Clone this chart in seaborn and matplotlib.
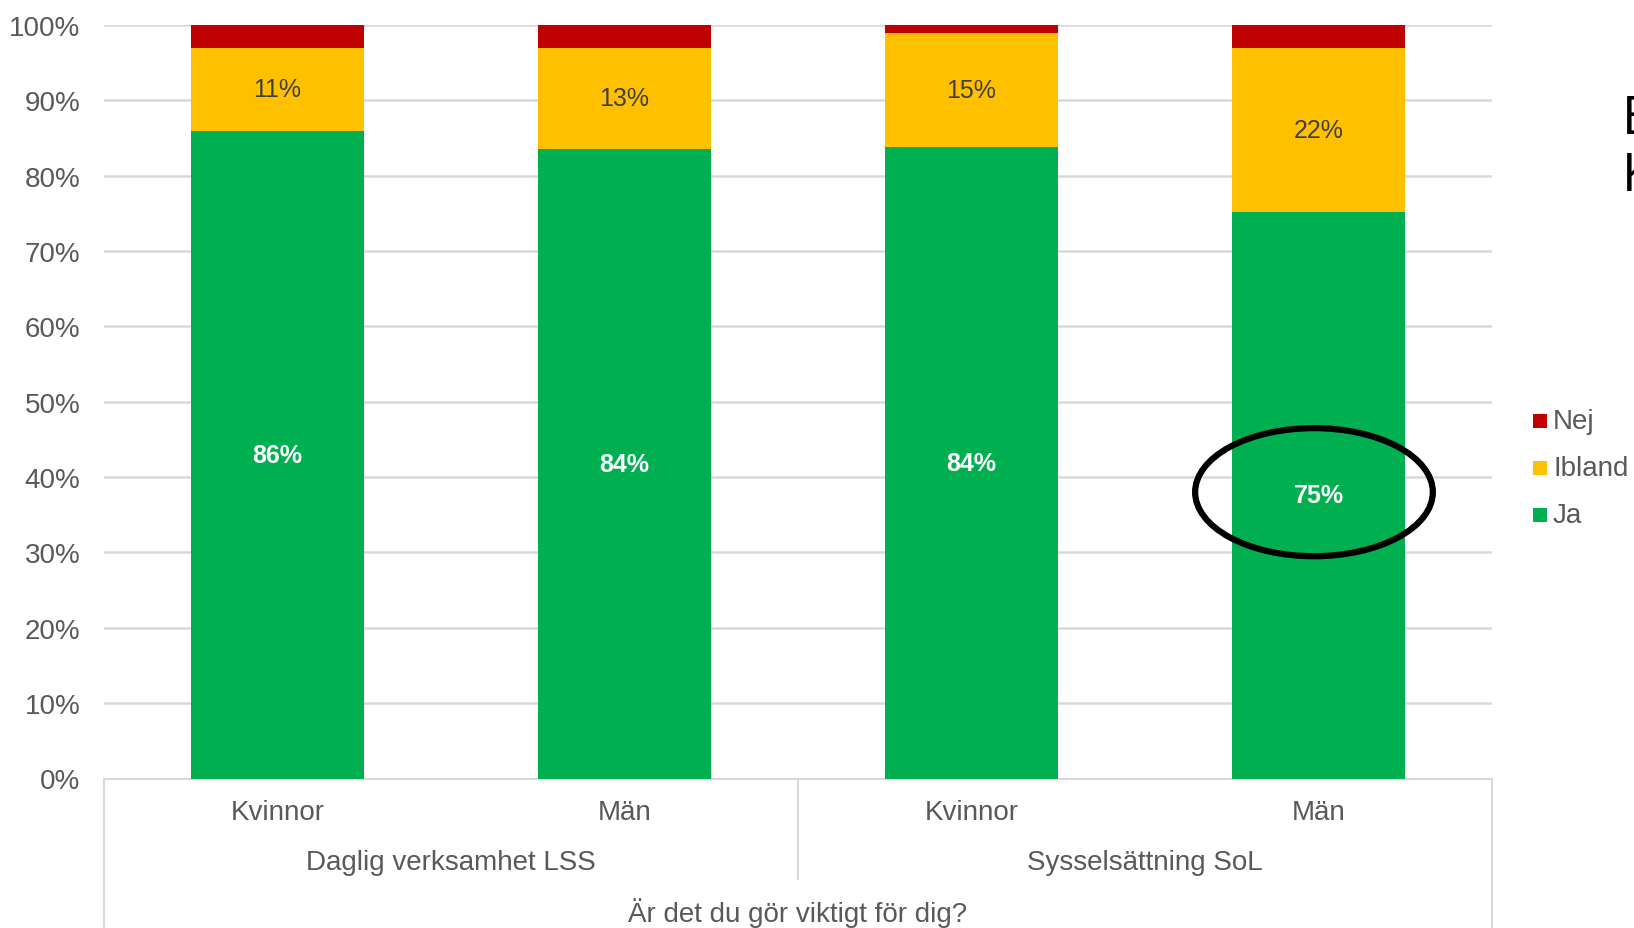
import matplotlib
matplotlib.use("Agg")
import matplotlib.pyplot as plt
from matplotlib.patches import Ellipse
import seaborn as sns
import pandas as pd
import numpy as np

categories = ["Kvinnor", "Män", "Kvinnor", "Män"]
groups = ["Daglig verksamhet LSS", "Sysselsättning SoL"]
ja = [85.9, 83.6, 83.8, 75.2]
ibland = [11.1, 13.4, 15.1, 21.8]
nej = [3.0, 3.0, 1.1, 3.0]
series_names = ["Nej", "Ibland", "Ja"]
colors = {"Nej": "#C00000", "Ibland": "#FFC000", "Ja": "#00B050"}
axis_title = "Är det du gör viktigt för dig?"
yticks = [0, 10, 20, 30, 40, 50, 60, 70, 80, 90, 100]

sns.set_theme(style="white")
plt.rcParams['font.family'] = ['Liberation Sans', 'DejaVu Sans']
gray = "#595959"
FS = 20

fig = plt.figure(figsize=(16.34, 9.29), dpi=100)
ax = fig.add_axes([104/1634, 1-779.5/929, (1492-104)/1634, (779.5-26)/929])

ja_a = np.array(ja)
ib_a = np.array(ibland)
nej_a = np.array(nej)
ids = ["c0", "c1", "c2", "c3"]
df = pd.DataFrame({"id": ids, "total": ja_a + ib_a + nej_a,
                   "mid": ja_a + ib_a, "ja": ja_a})

sns.barplot(data=df, x="id", y="total", color=colors["Nej"], width=0.5,
            saturation=1, ax=ax, zorder=3, linewidth=0)
sns.barplot(data=df, x="id", y="mid", color=colors["Ibland"], width=0.5,
            saturation=1, ax=ax, zorder=3, linewidth=0)
sns.barplot(data=df, x="id", y="ja", color=colors["Ja"], width=0.5,
            saturation=1, ax=ax, zorder=3, linewidth=0)

for i in range(4):
    ax.text(i, ja[i] / 2, f"{round(ja[i])}%", ha="center", va="center",
            color="white", fontsize=18, fontweight="bold", zorder=5)
    ax.text(i, ja[i] + ibland[i] / 2, f"{round(ibland[i])}%", ha="center",
            va="center", color="#404040", fontsize=18, zorder=5)

ax.set_xlim(-0.5, 3.5)
ax.set_ylim(0, 100)
ax.set_yticks(yticks)
ax.set_yticklabels([f"{t}%" for t in yticks], fontsize=FS, color=gray)
ax.tick_params(axis="y", length=0, pad=17)
ax.set_xticks([])
ax.set_xlabel("")
ax.set_ylabel("")
ax.grid(axis="y", color="#D9D9D9", linewidth=1.8, zorder=0)
ax.set_axisbelow(True)
for s in ["top", "right", "left"]:
    ax.spines[s].set_visible(False)
ax.spines["bottom"].set_color("#D9D9D9")
ax.spines["bottom"].set_linewidth(1.5)

# ellipse highlight
ax.add_patch(Ellipse((2.987, 38.0), 0.685, 17.0, fill=False,
                     edgecolor="black", linewidth=4.5, zorder=6))

# multi-level category axis
def fx(px):
    return px / 1634
def fy(py):
    return 1 - py / 929
lc = "#D9D9D9"
for x0, y1 in [(104, 929), (798, 880), (1492, 929)]:
    fig.add_artist(plt.Line2D([fx(x0), fx(x0)], [fy(779.5), fy(y1)],
                              color=lc, linewidth=1.5))
for i, c in enumerate(categories):
    xd = ax.transData.transform((i, 0))[0]
    fig.text(xd / 1634, fy(813), c, ha="center", va="center",
             fontsize=FS, color=gray)
for g, gi in zip(groups, [0.5, 2.5]):
    xd = ax.transData.transform((gi, 0))[0]
    fig.text(xd / 1634, fy(863), g, ha="center", va="center",
             fontsize=FS, color=gray)
fig.text(fx(798), fy(913), axis_title, ha="center", va="center",
         fontsize=FS, color=gray)

# legend
for name, py in zip(series_names, [422, 469, 516]):
    fig.patches.append(plt.Rectangle((fx(1533), fy(py + 7)), 14/1634, 14/929,
                                     transform=fig.transFigure,
                                     facecolor=colors[name], edgecolor="none"))
    fig.text(fx(1553), fy(py), name, ha="left", va="center",
             fontsize=FS, color=gray)

# cropped slide text at right edge (cut off in the original too)
fig.text(fx(1622), fy(120), "E", ha="left", va="center", fontsize=38,
         color="black", family=["Open Sans", "DejaVu Sans"])
fig.text(fx(1622), fy(177), "K", ha="left", va="center", fontsize=38,
         color="black", family=["Open Sans", "DejaVu Sans"])

fig.savefig("out.png", dpi=100)
